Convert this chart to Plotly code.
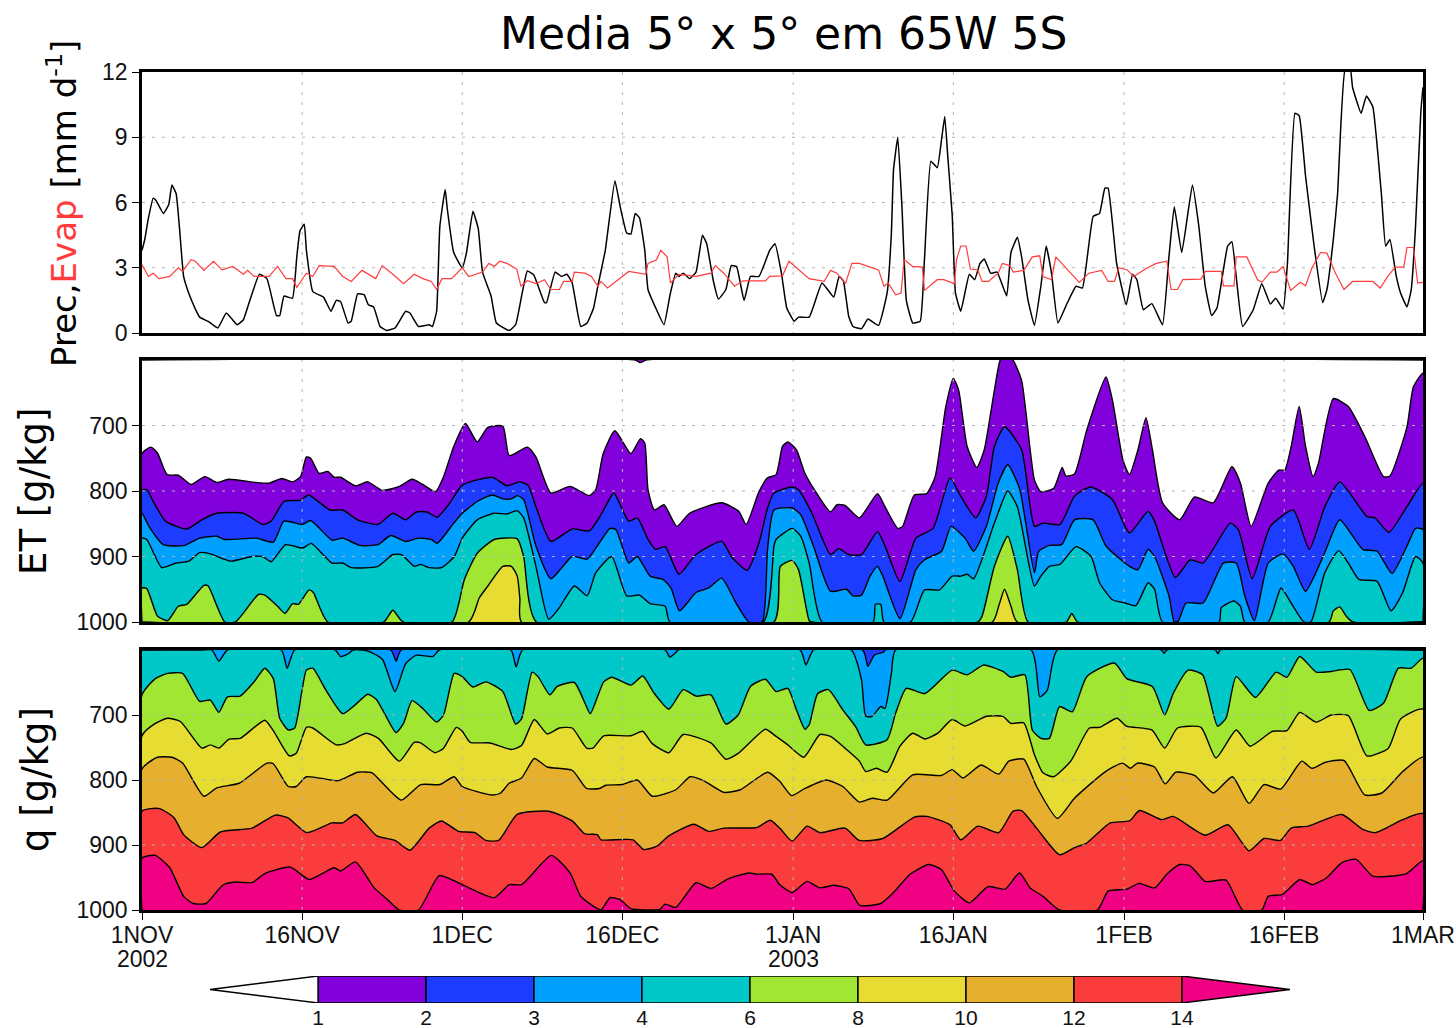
import plotly.graph_objects as go

W, H = 1456, 1028
title_text = "Media 5° x 5° em 65W 5S"
x_tick_days = [0, 15, 30, 45, 61, 76, 92, 107, 120]
x_tick_text = ["1NOV", "16NOV", "1DEC", "16DEC", "1JAN", "16JAN", "1FEB", "16FEB", "1MAR"]
year_days = [0, 61]
year_text = ["2002", "2003"]
cb_levels = ["1", "2", "3", "4", "6", "8", "10", "12", "14"]
C_VIOLET, C_BLUE, C_LBLUE, C_CYAN, C_GREEN = "#8200dc", "#1e3cff", "#00a0ff", "#00c8c8", "#a0e632"
C_YELLOW, C_ORANGE, C_RED, C_MAG = "#e6dc32", "#e6af2d", "#fa3c3c", "#f00082"
cb_colors = [C_VIOLET, C_BLUE, C_LBLUE, C_CYAN, C_GREEN, C_YELLOW, C_ORANGE, C_RED]

prec_d = [0,.26,.57,1.05,1.3,2,2.5,2.8,3.2,3.5,3.9,4.4,5,5.4,6.2,7.1,7.9,8.9,9.5,10.1,11,11.7,12.6,12.9,13.3,14.1,14.5,14.8,15.2,15.4,16,17,17.7,18.2,18.6,19.3,19.6,20.2,20.8,21.2,21.7,22.3,22.9,23.7,24.7,25.1,25.9,26.9,27.2,27.6,27.9,28.4,28.6,29.2,30,30.4,31,31.5,31.9,32.7,33.2,34.4,35,35.6,36.1,36.7,37.7,37.9,38.7,39.3,39.8,40.3,41.1,41.7,42.3,42.7,43.4,44.3,44.8,45.4,45.8,46.2,46.6,47.1,47.4,48.2,48.9,49.5,50,50.3,50.7,51.3,51.9,52.5,52.9,53.5,54,54.7,55.2,55.7,56.4,57,57.8,58.8,59.3,59.9,60.4,61.1,61.5,62.5,63.7,64.8,65.3,65.7,66.2,66.6,67.4,68,69,69.8,70.2,70.4,70.8,71.2,71.6,72.2,72.9,73.3,73.9,74.5,74.9,75.2,75.5,75.9,76.2,76.7,77.5,78,78.5,78.9,79.5,80.1,81,81.4,82,82.4,83,83.6,84.2,84.7,85.2,85.8,86.6,87.5,88.1,89.1,89.7,90.2,90.5,91.3,92.2,92.8,93.2,93.8,94.6,95.6,96.2,96.7,97.4,98.4,99,99.6,100.2,100.7,101.7,102.1,102.5,103.1,104.1,104.9,105.7,106.2,106.9,107.3,108,108.4,109,109.8,110.6,111,111.6,112,112.7,113.2,113.4,114.2,114.7,115.3,116.1,116.5,116.9,117.5,117.9,118.5,118.9,119.3,119.8,120]
prec_v = [3.8,4.3,5.2,6.2,6.1,5.5,5.9,6.8,6.4,4.9,2.6,1.8,1.1,.73,.53,.23,.92,.38,.61,1.5,2.7,2.5,.8,.8,1.7,1.6,3.5,4.7,5,3.8,1.9,1.65,1,1.5,1.45,.46,.54,1.8,1.76,1.3,1.2,.3,.12,.23,1,.92,.3,.38,.3,1,4.9,6.6,5.7,3.7,3,3.7,5.6,4.8,2.8,1.7,.46,.12,.38,1.8,2.85,2.67,1.4,1.4,2.8,2.6,2.7,2.3,.3,.46,1.15,2.15,3.8,7,5.8,4.6,4.55,5.5,5.3,3.8,2,1.07,.38,1.84,2.75,2.6,2.75,2.5,2.8,4.5,4.1,2.45,1.56,2,3.1,3.05,1.5,2.6,2.6,3.8,4.1,2.75,1.15,.54,.73,.73,2.3,1.65,2.6,2.4,.77,.3,.2,.64,.35,1.84,4.6,7.5,9,5.7,1.5,.46,.54,3.4,7.9,7.6,8.9,9.95,8,5.4,1.84,1,2.7,2.45,3.2,3.4,2.75,2.8,1.7,3.7,4.4,3.5,1.5,.35,2.15,4,2.75,.46,1.3,2.15,2.07,5.36,5.5,6.66,6.66,3.2,1.3,2.7,2.45,1.07,1.35,.38,3.5,5.8,3.7,6.8,4.9,2.15,.8,1.15,4,4.2,2.6,.3,1.07,2.27,1.33,1.6,1.1,3.2,10.1,10,7.2,4,1.4,2,4.3,6.4,12.1,12.1,11.3,10.1,10.9,10.4,6.4,4,4.3,2.6,1.84,1.2,2,4.9,10.2,11.3]
evap_d = [0,.6,1.05,1.6,2.6,3.4,3.8,4.6,5,5.8,6.7,7.5,8.5,9.5,9.9,10.5,11.9,12.7,13.5,14.1,14.5,15.4,16,16.6,18,18.8,19.6,20.6,21.9,22.5,23.5,24.5,25.5,26.3,27.1,27.6,28.1,29,30,30.6,31.9,32.5,33,33.5,34.2,35.1,35.5,36.1,36.9,37.7,38.3,39.1,39.5,40.3,40.5,41.5,42.1,42.7,43,43.6,44.6,45.6,47.2,47.4,48.2,48.6,49.2,49.5,50.3,51.9,53.3,53.7,54.5,55.5,56.3,58.4,58.8,60,60.6,61.5,62.5,63.9,64.5,65.1,65.9,66.5,67.2,69,69.5,69.9,70.6,71.1,71.4,72.2,73.1,73.3,74.5,75.1,76.1,76.3,76.7,77.2,77.6,78.3,78.7,79.3,80.2,80.6,81.3,81.6,82.6,83.4,84.1,84.4,85.2,85.6,86.4,87,87.8,88.7,89.9,90.5,91.1,91.5,92.3,92.9,94,95,96,96.4,97,97.5,99.2,99.6,101.1,101.3,102.3,102.5,103.5,104.5,104.9,105.7,106.3,106.9,107.3,107.6,108.5,109,109.6,110.4,111,111.8,112.6,113.4,115.3,116,116.7,117.4,118.2,118.5,119.1,119.5,120]
evap_v = [3.14,2.6,2.75,2.5,2.6,3,2.83,3.37,3.3,2.88,3.3,2.9,3.06,2.7,2.88,2.6,2.6,3.06,2.5,2.5,2.1,2.75,2.6,3.1,3.06,2.6,2.37,2.88,2.5,3.1,2.7,2.27,2.7,2.5,2.37,2,2.5,2.5,3,2.6,2.8,3.2,3.06,3.3,3.2,2.94,2.15,2.4,2.27,2.45,2,2,2.37,2.37,2.8,2.75,2.6,2.15,2.37,2.07,2.45,2.83,2.7,3.2,3.37,3.8,3.5,2.3,2.7,2.6,2.75,3.1,2.75,2.15,2.4,2.4,2.6,2.63,3.3,2.9,2.5,2.37,2.88,2.75,2.27,3.2,3.2,2.9,2.15,2.3,1.76,1.84,3.37,3.06,3.03,1.96,2.45,2.45,2.27,3.37,4,4,2.94,2.9,2.37,2.37,2.75,3.2,3.1,2.8,2.88,3.5,3.55,2.6,2.45,3.5,3.06,2.75,2.33,2.75,2.88,2.37,2.37,3,2.9,2.6,2.94,3.2,3.3,2,2,2.45,2.48,2.83,2.83,2.17,2.17,3.5,3.5,2.45,2.33,2.8,2.8,3.06,2.37,1.96,2.33,2.17,3,3.7,3.67,2.75,2,2.37,2.37,2.07,2.6,3.03,3.03,3.93,3.93,2.3,2.33]

et1_d = [0,.85,1.45,2.35,3.4,4.6,5.9,7,8.1,10.7,11.9,13.1,14.1,14.85,15.4,15.8,16.6,17.4,18,18.6,20,21.15,22.5,24.1,25.3,26.3,27.5,28.25,29.2,30.3,31.4,32.4,33.8,34.4,36.1,36.9,38.3,40.1,41.9,42.5,43.2,44.3,45.8,46.7,47.1,47.4,48,48.9,50.1,51.3,54.3,55.9,56.6,57.8,58.6,59.4,60,60.5,61.3,62.1,63.1,64.5,65.1,65.85,67.2,68.9,69.6,70.8,71.25,72.35,73.5,74.3,75.3,76,76.5,77.3,78.2,78.9,79.85,80.4,81,81.6,82.4,83.6,84.2,85.4,86.2,86.55,87.35,88.5,90.3,90.9,91.9,92.5,93.3,94.05,94.65,95.6,97.2,98.6,100.35,102.1,102.9,103.9,105.5,106.5,107.05,107.65,108.4,109,109.7,110.2,111.6,113,114.55,116.3,116.9,118.5,119.1,120]
et1_p = [743,733,742,775,776,790,778,787,782,787,788,781,786,778,748,750,773,770,779,779,792,786,799,793,782,790,801,778,732,697,725,703,701,746,733,748,803,793,807,798,743,708,743,720,727,798,829,821,854,834,818,831,851,801,780,775,732,725,737,773,801,832,821,822,841,804,824,857,854,806,804,778,671,628,646,732,764,737,646,600,590,600,631,783,801,796,764,777,774,707,626,661,753,775,737,688,737,818,844,809,818,763,788,854,788,768,768,732,671,732,778,758,659,671,717,778,777,702,641,620]
et_blip_d = [46.2,46.7,47.2]
et_blip_p = [600,604,600]
et2_d = [0,.45,1.05,2.2,4.2,5.6,7,9.5,11.3,12.1,13.3,14.85,15.6,17.6,18.8,20.2,22.1,23.5,24.7,25.7,26.7,27.65,28.85,30,32.8,34.2,35.35,36.15,36.9,38.3,40.3,41.9,42.9,44.2,44.8,45.6,46.4,47.4,48.1,49,50.3,51.9,54.3,55.3,56.7,57.8,58.6,59.2,60.9,61.5,62.7,64.5,65.25,66.2,67.4,68.9,69.6,71,72.5,74.1,75.7,76.7,78.1,79.1,79.85,80.8,82.4,83.6,84.4,86,87.35,88.85,90.9,92.5,94.25,94.85,96.8,98.2,99.4,101.95,102.7,104,105.7,107.85,109.35,110.8,112.2,114.75,115.5,116.8,118.5,120]
et2_p = [799,798,816,846,858,844,834,834,851,846,816,814,806,829,829,844,851,834,844,832,832,840,818,791,779,792,786,791,824,877,858,861,839,803,821,846,841,874,889,885,927,897,877,902,921,879,826,803,794,798,832,897,888,897,897,862,884,938,872,857,780,808,841,808,732,702,737,854,849,851,808,794,813,864,831,846,932,905,910,849,859,934,854,829,889,824,786,839,841,863,824,788]
et3_d = [0,.65,2,4,5.4,7,7.75,10.7,12.3,13.3,15,15.8,17.8,18.8,20.4,22.1,23.3,24.7,25.9,27.1,27.65,29.2,30,31.4,32.8,33.8,34.6,35.15,35.75,36.9,38.3,40.3,41.7,42.65,43.85,44.4,45.6,46.4,47.6,48.8,49.55,50.35,51.9,53.1,54.3,55.65,56.85,58.1,58.6,59.2,60.9,61.7,62.9,64.5,66,66.6,67.4,68.2,68.9,69.4,71,72.5,73.3,74.9,75.8,77.1,77.9,79.1,80.2,81.1,82.2,83.6,84,85,86.15,87.35,89.1,90.3,92.5,93.3,94.25,94.85,96.2,96.7,97.1,97.8,99.4,101.3,102.5,103.3,104.2,105.5,106.9,107.85,109,110.8,112.2,114.35,115.7,117.1,118.5,119.3,120]
et3_p = [834,854,882,883,872,869,874,872,878,846,851,845,875,872,883,882,868,877,872,874,880,849,834,816,806,812,812,807,813,884,934,900,904,884,857,859,910,900,930,935,948,983,955,948,933,971,1000,1000,889,829,826,836,884,953,950,960,959,930,915,930,995,920,905,892,854,872,892,854,788,760,796,925,892,883,882,844,844,884,915,920,889,900,960,1000,998,971,971,910,910,960,998,910,896,915,953,894,844,889,892,926,884,857,859]
et4_d = [0,.45,1.85,3.2,4.4,5.4,6.4,8.3,10.3,11.3,12.1,13.45,15.05,15.85,17.8,18.8,19.6,22.1,23.5,24.3,25.5,26.1,26.9,28.05,29.25,30,31.4,33,34.2,35.15,35.75,36.9,38.1,39.1,40.5,41.7,42.5,44,45.4,46.6,47.6,49,49.45,58.2,59.2,59.4,60.9,61.7,62.5,63.7,68.5,68.7,69.2,69.5,72,73.3,74.7,75.9,76.7,77.3,77.9,79.85,81.1,82,83.6,84.2,85,86,87.5,88.9,89.7,90.9,92.1,93.1,94.25,94.85,95.6,100.9,101.1,102.3,102.9,103.3,105.5,106.7,107.65,108.85,109.5,110.8,112.1,113,114,115.7,117,118.1,119.3,120]
et4_p = [872,874,917,910,907,894,896,907,900,900,908,882,887,880,910,910,917,915,897,897,915,912,917,917,900,872,844,834,835,830,841,915,996,978,945,960,925,900,960,959,972,976,1000,1000,884,874,857,869,910,1000,1000,973,973,1000,1000,951,951,930,930,927,934,849,800,824,945,930,915,912,885,900,940,966,971,975,940,950,1000,1000,978,968,976,1000,1000,948,971,1000,1000,925,891,910,935,938,983,955,900,910]
et6_d = [0,.45,1.45,2.4,3.4,4.2,5.8,6.2,7.75,8.75,10.9,11.5,12.7,13.4,14.1,14.65,15.65,16.05,17.4,22.65,23.5,24.45,29.05,30.2,31.4,33,35.15,35.75,36.95,59.2,59.8,60.9,61.5,62.5,62.7,78.3,78.7,79.85,81.1,82,83,86.6,87.1,87.65,111.2,111.6,112.2,112.8,113.4,120]
et6_p = [948,949,991,998,976,973,944,945,1000,1000,958,959,976,987,972,973,951,955,1000,1000,982,1000,1000,935,895,874,873,900,1000,1000,915,906,920,998,1000,1000,991,915,869,920,1000,1000,987,1000,1000,983,977,991,1000,1000]
et8_d = [0,30.6,31.6,32.4,33.8,34.6,35.15,35.4,35.55,79.65,80.25,80.8,81.4,82,120]
et8_p = [1000,1000,963,945,915,915,930,965,1000,1000,976,950,976,1000,1000]

q3_d = [0,23.3,23.8,24.3,67.5,68,68.6,69.5,69.6,120]
q3_p = [600,600,617,600,600,625,608,603,600,600]
q4_d = [0,5.55,6.55,7.2,8,13.05,13.6,14.3,18.1,18.6,19.4,19.75,20.75,21.75,22.55,23.7,24.7,25.7,27.25,27.85,34.55,35.05,35.65,49,49.45,50,50.2,61.65,62.2,62.9,66.45,67.4,67.8,68.4,69.2,69.6,70.2,70.6,83.3,84.1,84.8,85.75,95.5,95.75,96,100.55,100.8,101,120]
q4_p = [600,600,600,617,600,600,628,600,600,610,605,600,600,606,615,664,621,608,610,600,600,626,600,600,611,604,600,600,623,600,600,646,702,702,687,690,636,600,600,672,662,600,600,605,600,600,606,600,600]
q6_d = [0,1.25,2.4,3.8,5.4,6.4,7.2,8,9.2,10.5,11.5,12.3,12.9,13.7,14.3,15,15.4,16,17.2,18.8,20,21.15,21.95,22.7,23.8,24.5,25.3,26.3,27.6,28.25,29.25,30,31,32.2,33.8,35,35.55,36.55,37.1,38.2,38.9,40.5,41.5,42,43.25,44,45.8,46.9,48,49.35,50.7,51.9,53.3,54.7,55.85,57,58.4,59.4,60.5,61.3,62.1,62.5,63.3,64.3,65.65,66.85,67.8,69.8,70.6,71.6,73.35,75.9,77.3,78.85,80.65,81.4,82.7,83.4,84.2,85,85.95,87.15,88.5,91.1,92.25,94.65,95.8,96.6,98,99.35,100.75,101.55,102.5,104.3,106.25,107.25,108.45,110,111.4,113.15,114.95,116.3,117.7,118.9,120]
q6_p = [669,644,636,636,679,677,696,672,671,649,628,644,705,723,720,661,631,628,661,698,684,668,676,697,727,713,678,690,711,700,636,641,657,649,664,714,706,634,641,669,656,650,682,698,649,642,654,640,667,691,661,671,669,714,700,656,645,664,659,692,722,715,667,661,692,718,746,738,697,659,667,631,638,623,633,642,638,723,736,736,687,695,641,620,644,656,700,667,631,638,717,705,641,673,634,642,610,634,633,630,693,682,628,628,613]
q8_d = [0,1.25,2.4,3.6,5.6,6.4,7.2,8.15,9.2,11.5,12.3,13.8,14.45,15.4,16,18.2,19,21,22.15,24.1,25.5,26.1,27.45,28.25,29.45,30,30.75,32.6,34.6,35.55,36.75,37.95,39.1,40.3,41.65,42.25,43.25,45.8,46.9,47.8,49.35,50.7,53.3,54.7,55.85,58.4,59.4,60.5,62,63.5,64.5,65.85,67.2,67.8,68.8,69.8,71,72.2,73.35,74.55,75.9,77.1,79.1,80.65,81.4,82.6,83.6,84.4,85.4,87,88.75,89.7,91.35,92.2,94.6,95.8,97,99.2,100.6,102.5,103.8,105.9,107.25,108.45,110,111.4,113,114.75,116.75,117.9,120]
q8_p = [732,713,705,710,751,746,751,737,736,708,724,763,759,719,720,746,744,728,736,771,742,743,758,751,719,725,742,743,753,747,707,729,720,720,751,751,732,732,725,744,758,730,743,768,759,722,733,746,765,730,733,751,771,787,782,788,748,728,737,728,707,717,702,702,713,712,761,789,795,771,720,719,705,717,723,751,720,719,766,723,748,725,724,696,711,700,701,763,751,706,691]
q10_d = [0,1.45,2.8,3.8,5.8,7,9.1,11.7,12.3,13.7,14.45,15.4,18.4,20.2,21.55,22.55,24.3,26.1,27.9,29.25,30,32.8,33.6,34.4,35.55,36.75,37.95,40.3,41.65,42.85,43.45,45,46.4,47.8,50,51.35,52.6,54.5,56.05,58.6,59.74,60.85,62.1,64.1,65.65,67.2,68.4,69.8,72.2,74.9,75.9,76.9,78.6,80.25,81.2,82.6,83.8,85.75,87.35,90.25,91.85,92.6,93.25,94.85,95.85,96.85,98.6,100.35,102.15,103.7,105.1,106.65,108.65,109.6,110.8,112.6,114.55,116.15,118.1,120]
q10_p = [783,765,765,774,825,812,805,774,775,810,810,795,801,788,789,805,831,807,807,795,810,823,820,805,797,767,780,785,813,813,808,807,800,825,815,795,801,819,815,788,802,824,813,800,810,834,828,831,792,793,784,797,777,791,771,768,810,859,828,787,774,782,774,780,806,788,793,820,795,836,807,814,771,782,773,770,823,820,787,765]
q12_d = [0,1.65,3,3.9,5.6,7.35,10.3,12.5,13.65,15.45,17.8,18.8,20,22,23.7,25.1,26.9,28.05,29.65,31.2,32.2,33.4,35.15,38.1,40.3,41.5,42.65,43,46,47,48.2,49.35,51.7,53.1,54.5,57.6,58.85,59.74,60.9,62.3,63.5,65.85,67.2,69.4,72.35,73.55,75.7,76.7,78.3,80.25,81.6,82.4,83.8,85.95,87.35,88.5,90.7,92.5,93.45,95.5,96.6,99.6,101.75,103.7,105.1,106.65,107.65,109.25,112.4,114.35,115.55,118.1,120]
q12_p = [848,844,858,884,904,880,874,854,858,881,866,866,853,886,893,908,874,863,879,881,893,893,853,848,863,883,884,892,892,907,902,886,868,879,874,873,862,874,894,871,881,874,893,890,857,856,869,892,871,881,848,847,874,915,904,897,866,863,847,861,856,885,869,909,890,893,874,871,853,876,881,861,852]
q14_d = [0,1.25,2.6,3.9,4.8,6,7.55,8.75,10.3,11.5,13.9,15.65,18,18.6,20,21.75,23,24.1,25.9,27.85,30,33,34.4,35.55,38.35,40.1,41.1,42.45,43,43.85,44.8,45.8,48.5,49,50,51.9,53.3,54.9,56.85,57.65,59,59.74,60.9,62.3,63.5,64.85,66.25,67.25,69.2,70.4,71.95,73.7,74.9,76.1,77.5,79.25,80.85,82.2,83.2,84.4,85.95,89.5,90.5,92.25,93.4,94.85,96,97.2,98.2,99.6,101.55,103.1,104.9,105.5,106.85,108.45,109.65,111,112.4,113.75,115.3,118.45,120]
q14_p = [920,916,935,979,990,990,962,957,958,944,934,953,935,940,926,966,984,1000,1000,947,961,981,961,961,916,943,979,996,1000,981,984,998,999,991,996,958,967,952,943,945,945,961,973,956,966,962,968,993,990,973,945,930,938,971,989,964,968,943,966,979,1000,1000,971,968,959,966,945,930,932,956,954,1000,1000,979,976,953,961,950,927,922,948,944,924]

DX = [142 / W, 1423 / W]
def dom(top, bot):
    return [1 - bot / H, 1 - top / H]

fig = go.Figure()
SMOOTH = dict(shape="spline", smoothing=0.55)

def band(days, vals, color, ax, base):
    fig.add_trace(go.Scatter(x=[0] + days + [120], y=[base] + vals + [base], mode="lines", fill="toself",
                             fillcolor=color, line=dict(color="black", width=1.4, **SMOOTH), xaxis="x" + ax, yaxis="y" + ax,
                             hoverinfo="skip", showlegend=False))

# top panel
fig.add_trace(go.Scatter(x=prec_d, y=prec_v, mode="lines", line=dict(color="black", width=1.5, shape="spline", smoothing=0.35), showlegend=False, name="Prec"))
fig.add_trace(go.Scatter(x=evap_d, y=evap_v, mode="lines", line=dict(color="#ff3c3c", width=1.2), showlegend=False, name="Evap"))
# middle panel
for d, p, c in [(et1_d, et1_p, C_VIOLET), (et2_d, et2_p, C_BLUE), (et3_d, et3_p, C_LBLUE),
                (et4_d, et4_p, C_CYAN), (et6_d, et6_p, C_GREEN), (et8_d, et8_p, C_YELLOW)]:
    band(d, p, c, "2", 1000)
band(et_blip_d, et_blip_p, C_VIOLET, "2", 600)
# bottom panel
band([0, 120], [600, 600], C_CYAN, "3", 1000)
band(q4_d, q4_p, C_LBLUE, "3", 600)
band(q3_d, q3_p, C_BLUE, "3", 600)
for d, p, c in [(q6_d, q6_p, C_GREEN), (q8_d, q8_p, C_YELLOW), (q10_d, q10_p, C_ORANGE),
                (q12_d, q12_p, C_RED), (q14_d, q14_p, C_MAG)]:
    band(d, p, c, "3", 1000)

# colour bar
cb = dict(mode="lines", fill="toself", line=dict(color="black", width=1.4), xaxis="x4", yaxis="y4",
          hoverinfo="skip", showlegend=False)
for i, c in enumerate(cb_colors):
    fig.add_trace(go.Scatter(x=[i, i, i + 1, i + 1, i], y=[0, 1, 1, 0, 0], fillcolor=c, **cb))
fig.add_trace(go.Scatter(x=[0, -1, 0, 0], y=[0, .5, 1, 0], fillcolor="white", **cb))
fig.add_trace(go.Scatter(x=[8, 9, 8, 8], y=[0, .5, 1, 0], fillcolor=C_MAG, **cb))

# dotted grid above the fills
shapes = []
GRID = dict(color="#b4b4b4", width=1, dash="3px,7px")
for ax, rng, ys in [("", (12, 0), [3, 6, 9]), ("2", (1000, 600), [700, 800, 900]), ("3", (1000, 600), [700, 800, 900])]:
    layer = "below" if ax == "" else "above"
    for xv in x_tick_days[1:-1]:
        shapes.append(dict(type="line", xref="x" + ax, yref="y" + ax, x0=xv, x1=xv, y0=rng[0], y1=rng[1], line=GRID, layer=layer))
    for yv in ys:
        shapes.append(dict(type="line", xref="x" + ax, yref="y" + ax, x0=0, x1=120, y0=yv, y1=yv, line=GRID, layer=layer))

TICK_FONT = dict(family="Liberation Sans, sans-serif", size=23, color="#111111")
CB_FONT = dict(family="Liberation Sans, sans-serif", size=21, color="#111111")
LAB_FONT = dict(family="DejaVu Sans, sans-serif", size=34, color="black")
LAB_FONT2 = dict(family="DejaVu Sans, sans-serif", size=37, color="black")
xcommon = dict(range=[0, 120], domain=DX, showgrid=False, zeroline=False, showline=True, mirror=True, automargin=False,
               linecolor="black", linewidth=2.5, tickvals=x_tick_days, ticks="", showticklabels=False)
ycommon = dict(showgrid=False, zeroline=False, showline=True, mirror=True, linecolor="black", linewidth=2.5, automargin=False,
               ticks="outside", ticklen=7, tickwidth=1, tickcolor="black", tickfont=TICK_FONT)

year_notes = [dict(text=t, x=d, y=1 - 959 / H, xref="x3", yref="paper", showarrow=False, font=TICK_FONT,
                   xanchor="center", yanchor="middle") for d, t in zip(year_days, year_text)]

fig.update_layout(
    template="none", width=W, height=H, margin=dict(l=0, r=0, t=0, b=0, pad=0), paper_bgcolor="white", plot_bgcolor="white",
    showlegend=False, shapes=shapes,
    xaxis=dict(xcommon, anchor="y"),
    yaxis=dict(ycommon, anchor="x", domain=dom(72, 333), range=[0, 12], tickvals=[0, 3, 6, 9, 12]),
    xaxis2=dict(xcommon, anchor="y2"),
    yaxis2=dict(ycommon, anchor="x2", domain=dom(360, 622), range=[1000, 600], tickvals=[700, 800, 900, 1000]),
    xaxis3=dict(xcommon, anchor="y3", ticks="outside", ticklen=7, tickcolor="black", showticklabels=True,
                ticktext=x_tick_text, tickfont=TICK_FONT, ticklabeloverflow="allow", ticklabelstandoff=-4),
    yaxis3=dict(ycommon, anchor="x3", domain=dom(650, 910), range=[1000, 600], tickvals=[700, 800, 900, 1000]),
    xaxis4=dict(anchor="y4", domain=[210 / W, 1290 / W], range=[-1, 9], showgrid=False, zeroline=False, showline=False, automargin=False,
                tickvals=list(range(len(cb_levels))), ticktext=cb_levels, ticks="", tickfont=CB_FONT, ticklabeloverflow="allow"),
    yaxis4=dict(anchor="x4", domain=dom(976, 1003), range=[0, 1], visible=False),
    annotations=[
        dict(text=title_text, x=783 / W, y=1 - 34 / H, xref="paper", yref="paper", showarrow=False,
             font=dict(family="DejaVu Sans, sans-serif", size=44, color="black"), xanchor="center", yanchor="middle"),
        dict(text='Prec,<span style="color:#ff3c3c">Evap</span> [mm d<sup>-1</sup>]', x=62 / W, y=1 - 204 / H,
             xref="paper", yref="paper", showarrow=False, textangle=-90, font=LAB_FONT, xanchor="center", yanchor="middle"),
        dict(text="ET [g/kg]", x=33 / W, y=1 - 492 / H, xref="paper", yref="paper", showarrow=False, textangle=-90,
             font=LAB_FONT2, xanchor="center", yanchor="middle"),
        dict(text="q [g/kg]", x=35 / W, y=1 - 780 / H, xref="paper", yref="paper", showarrow=False, textangle=-90,
             font=LAB_FONT2, xanchor="center", yanchor="middle"),
    ] + year_notes,
)

fig.write_html("out.html", config=dict(displayModeBar=False),
               post_script="document.body.style.margin='0';document.documentElement.style.overflow='hidden';")
